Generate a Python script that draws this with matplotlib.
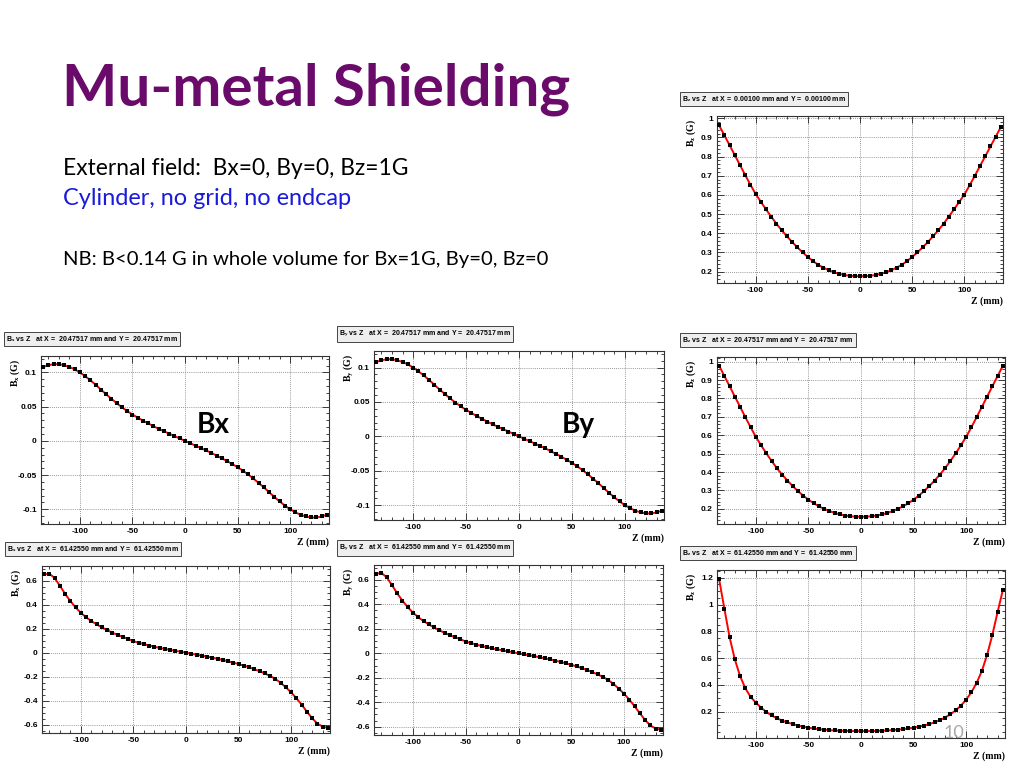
import matplotlib.pyplot as plt
from matplotlib.ticker import MultipleLocator, FuncFormatter

W, H = 1024, 768
plt.rcParams['mathtext.fontset'] = 'custom'
plt.rcParams['mathtext.rm'] = 'Liberation Serif:bold'
plt.rcParams['mathtext.it'] = 'Liberation Serif:bold'
plt.rcParams['mathtext.bf'] = 'Liberation Serif:bold'

# sample positions along the cylinder axis (mm)
z = list(range(-135, 140, 5))

# Bz on axis, X = Y = 0.001 mm
bz_axis = [0.963, 0.912, 0.860, 0.808, 0.756, 0.704, 0.653, 0.605, 0.564, 0.524,
           0.486, 0.449, 0.415, 0.384, 0.354, 0.326, 0.300, 0.276, 0.254, 0.235,
           0.220, 0.207, 0.196, 0.188, 0.182, 0.178, 0.176,
           0.175,
           0.176, 0.178, 0.182, 0.188, 0.196, 0.207, 0.220, 0.235, 0.254, 0.276,
           0.300, 0.326, 0.354, 0.384, 0.415, 0.449, 0.486, 0.524, 0.563, 0.602,
           0.650, 0.700, 0.751, 0.802, 0.853, 0.904, 0.955]

# X = Y = 20.47517 mm
bx_mid = [0.108, 0.1105, 0.112, 0.112, 0.1105, 0.108, 0.1045, 0.100, 0.0945, 0.0885,
          0.082, 0.075, 0.068, 0.0615, 0.055, 0.049, 0.0435, 0.0385, 0.034, 0.0295,
          0.0255, 0.0215, 0.0175, 0.014, 0.0105, 0.007, 0.0035,
          0.0,
          -0.0035, -0.007, -0.0105, -0.014, -0.0175, -0.0215, -0.0255, -0.0295, -0.034, -0.0385,
          -0.0435, -0.049, -0.055, -0.0615, -0.068, -0.075, -0.082, -0.0885, -0.0945, -0.100,
          -0.1045, -0.108, -0.1105, -0.112, -0.112, -0.1105, -0.108]
by_mid = [0.108, 0.1105, 0.112, 0.112, 0.1105, 0.108, 0.1045, 0.100, 0.0945, 0.0885,
          0.082, 0.075, 0.068, 0.0615, 0.055, 0.049, 0.0435, 0.0385, 0.034, 0.0295,
          0.0255, 0.0215, 0.0175, 0.014, 0.0105, 0.007, 0.0035,
          0.0,
          -0.0035, -0.007, -0.0105, -0.014, -0.0175, -0.0215, -0.0255, -0.0295, -0.034, -0.0385,
          -0.0435, -0.049, -0.055, -0.0615, -0.068, -0.075, -0.082, -0.0885, -0.0945, -0.100,
          -0.1045, -0.108, -0.1105, -0.112, -0.112, -0.1105, -0.108]
bz_mid = [0.978, 0.922, 0.866, 0.810, 0.754, 0.698, 0.643, 0.591, 0.545, 0.501,
          0.460, 0.421, 0.386, 0.354, 0.324, 0.297, 0.272, 0.250, 0.231, 0.214,
          0.200, 0.188, 0.178, 0.170, 0.164, 0.160, 0.158,
          0.157,
          0.158, 0.160, 0.164, 0.170, 0.178, 0.188, 0.200, 0.214, 0.231, 0.250,
          0.272, 0.297, 0.324, 0.354, 0.386, 0.421, 0.460, 0.501, 0.545, 0.591,
          0.643, 0.698, 0.754, 0.810, 0.866, 0.922, 0.978]

# X = Y = 61.42550 mm
bx_out = [0.652, 0.658, 0.622, 0.558, 0.490, 0.430, 0.377, 0.332, 0.295, 0.263,
          0.236, 0.211, 0.188, 0.167, 0.148, 0.131, 0.115, 0.096, 0.083, 0.071,
          0.060, 0.050, 0.040, 0.032, 0.024, 0.016, 0.008,
          0.0,
          -0.008, -0.016, -0.024, -0.032, -0.041, -0.050, -0.060, -0.071, -0.082, -0.094,
          -0.107, -0.121, -0.137, -0.154, -0.172, -0.193, -0.218, -0.250, -0.288, -0.330,
          -0.378, -0.432, -0.490, -0.545, -0.590, -0.615, -0.625]
by_out = [0.650, 0.657, 0.622, 0.558, 0.490, 0.430, 0.377, 0.332, 0.295, 0.263,
          0.236, 0.211, 0.188, 0.167, 0.148, 0.131, 0.115, 0.096, 0.083, 0.071,
          0.060, 0.050, 0.040, 0.032, 0.024, 0.016, 0.008,
          0.0,
          -0.008, -0.016, -0.024, -0.032, -0.041, -0.050, -0.060, -0.071, -0.082, -0.094,
          -0.107, -0.121, -0.137, -0.154, -0.172, -0.193, -0.218, -0.250, -0.288, -0.330,
          -0.378, -0.432, -0.490, -0.545, -0.590, -0.615, -0.625]
bz_out = [1.190, 0.970, 0.755, 0.590, 0.465, 0.375, 0.310, 0.268, 0.230, 0.198,
          0.172, 0.151, 0.134, 0.120, 0.108, 0.097, 0.088, 0.081, 0.075, 0.070,
          0.066, 0.063, 0.060, 0.058, 0.057, 0.056, 0.0555,
          0.055,
          0.0555, 0.056, 0.057, 0.058, 0.060, 0.063, 0.066, 0.070, 0.075, 0.081,
          0.088, 0.097, 0.108, 0.121, 0.137, 0.157, 0.181, 0.210, 0.245, 0.290,
          0.345, 0.415, 0.505, 0.625, 0.775, 0.945, 1.110]

fig = plt.figure(figsize=(W / 100, H / 100), dpi=100)
fig.patch.set_facecolor('white')


def px_text(x, y, s, **kw):
    return fig.text(x / W, 1 - y / H, s, **kw)


def fit_text(x, y, s, width, **kw):
    # scale the font so the rendered text spans `width` pixels
    t = px_text(x, y, s, **kw)
    r = fig.canvas.get_renderer()
    w = t.get_window_extent(r).width
    t.set_fontsize(t.get_fontsize() * width / w)
    return t


def panel(box, vals, ylim, ymaj, ymin, comp, pos):
    x0, y0, x1, y1 = box
    ax = fig.add_axes([x0 / W, 1 - y1 / H, (x1 - x0) / W, (y1 - y0) / H])
    ax.plot(z, vals, color='red', lw=1.4, zorder=3)
    ax.plot(z, vals, 's', color='black', ms=2.3, mew=0, zorder=4)
    ax.set_xlim(-137, 137)
    ax.set_ylim(*ylim)
    ax.xaxis.set_major_locator(MultipleLocator(50))
    ax.xaxis.set_minor_locator(MultipleLocator(10))
    ax.yaxis.set_major_locator(MultipleLocator(ymaj))
    ax.yaxis.set_minor_locator(MultipleLocator(ymin))
    fmt = FuncFormatter(lambda v, p: '%g' % round(v, 6))
    ax.xaxis.set_major_formatter(fmt)
    ax.yaxis.set_major_formatter(fmt)
    ax.grid(True, which='major', ls=(0, (1, 1.5)), color='#777777', lw=0.6)
    ax.tick_params(which='both', direction='in', top=True, right=True,
                   labelsize=6, width=0.6, color='#222222', pad=3)
    ax.tick_params(which='major', length=5)
    ax.tick_params(which='minor', length=2.5)
    for lab in ax.get_xticklabels() + ax.get_yticklabels():
        lab.set_fontweight('bold')
        lab.set_family('Liberation Sans')
    for sp in ax.spines.values():
        sp.set_linewidth(0.8)
        sp.set_color('#333333')
    # ROOT style titles
    px_text(x0 - 26, y0 + 3, 'B$_{\\mathrm{%s}}$ (G)' % comp, rotation=90,
            ha='center', va='top', fontsize=7, family='Liberation Serif',
            fontweight='bold')
    px_text(x1, y1 + 18, 'Z (mm)', ha='right', va='center', fontsize=7,
            family='Liberation Serif', fontweight='bold')
    px_text(x0 - 35, y0 - 17,
            'B$_{\\mathrm{%s}}$ vs Z   at X =  %s mm and Y =  %s mm' % (comp, pos, pos),
            ha='left', va='center', fontsize=5, family='Liberation Sans',
            fontweight='bold',
            bbox=dict(boxstyle='square,pad=0.3', fc='#eeeeee', ec='#444444', lw=0.7))
    return ax


panel((717, 116, 1003, 283), bz_axis, (0.14, 1.012), 0.1, 0.02, 'z', '0.00100')
panel((41, 356, 329, 524), bx_mid, (-0.1215, 0.124), 0.05, 0.01, 'x', '20.47517')
panel((374, 351, 664, 520), by_mid, (-0.1215, 0.124), 0.05, 0.01, 'y', '20.47517')
panel((717, 357, 1005, 524), bz_mid, (0.118, 1.025), 0.1, 0.02, 'z', '20.47517')
panel((42, 566, 330, 733), bx_out, (-0.668, 0.722), 0.2, 0.05, 'x', '61.42550')
panel((374, 565, 663, 735), by_out, (-0.668, 0.722), 0.2, 0.05, 'y', '61.42550')
panel((717, 570, 1005, 738), bz_out, (0.004, 1.258), 0.2, 0.05, 'z', '61.42550')

# slide text
fit_text(62, 105, 'Mu-metal Shielding', 508, color='#6a0a6a', fontsize=40,
         family='Lato', fontweight='bold', va='baseline')
fit_text(63, 175, 'External field:  Bx=0, By=0, Bz=1G', 346, color='black',
         fontsize=14, family='Lato', va='baseline')
fit_text(63, 205, 'Cylinder, no grid, no endcap', 290, color='#1a1adb',
         fontsize=14, family='Lato', va='baseline')
fit_text(63, 265, 'NB: B<0.14 G in whole volume for Bx=1G, By=0, Bz=0', 487,
         color='black', fontsize=14, family='Lato', va='baseline')
fit_text(197, 433, 'Bx', 33, fontsize=20, family='Lato', fontweight='bold',
         va='baseline', zorder=5)
fit_text(562, 433, 'By', 33, fontsize=20, family='Lato', fontweight='bold',
         va='baseline', zorder=5)
px_text(954, 733, '10', fontsize=13, color='#a8a8a8', family='Lato',
        ha='center', va='center', zorder=5)

fig.savefig('out.png', dpi=100, facecolor='white')
